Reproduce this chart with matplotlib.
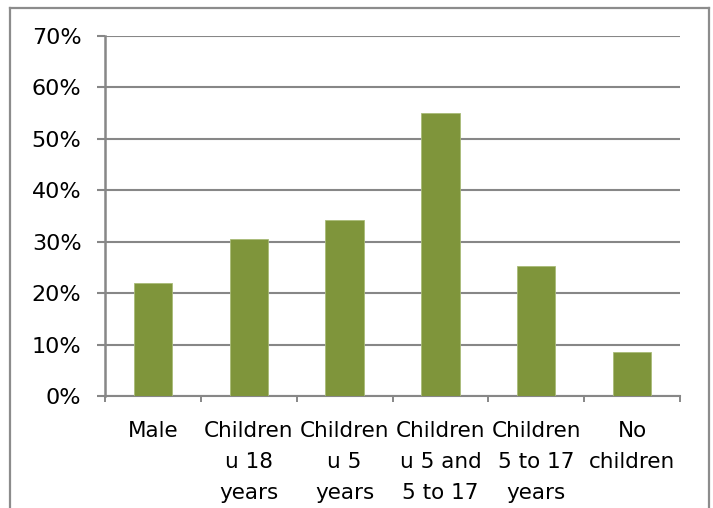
import matplotlib.pyplot as plt
import numpy as np
from matplotlib.lines import Line2D

categories = ["Male", "Children\nu 18\nyears", "Children\nu 5\nyears",
              "Children\nu 5 and\n5 to 17", "Children\n5 to 17\nyears", "No\nchildren"]
values = [22.0, 30.5, 34.3, 55.0, 25.3, 8.6]
yticks = [0, 10, 20, 30, 40, 50, 60, 70]

bar_color = "#7f953b"
grid_color = "#878787"

fig = plt.figure(figsize=(7.13, 5.08), dpi=100)
ax = fig.add_axes([0.1473, 0.2205, 0.8064, 0.7085])

x = np.arange(len(categories))
ax.bar(x, values, width=0.4, color=bar_color, edgecolor="#a9bb78", linewidth=0.6, zorder=3)

ax.set_xlim(-0.5, len(categories) - 0.5)
ax.set_ylim(0, 70)
ax.set_yticks(yticks)
ax.set_yticklabels([f"{v}%" for v in yticks])
ax.yaxis.grid(True, color=grid_color, linewidth=1.5, zorder=0)

ax.set_xticks(x)
ax.set_xticklabels(categories, linespacing=1.7)
ax.set_xticks(np.arange(-0.5, len(categories)), minor=True)
ax.tick_params(axis="x", which="major", length=0, pad=18, labelsize=15.5)
ax.tick_params(axis="x", which="minor", length=4.5, width=1.4, color=grid_color)
ax.tick_params(axis="y", length=6, width=1.5, color=grid_color, pad=11, labelsize=16)

for s in ["top", "right"]:
    ax.spines[s].set_visible(False)
ax.spines["left"].set_color(grid_color)
ax.spines["left"].set_linewidth(1.8)
ax.spines["bottom"].set_color(grid_color)
ax.spines["bottom"].set_linewidth(1.5)

# outer chart border
bx0, bx1, by1 = 0.014, 0.9944, 0.984
for xs, ys in [([bx0, bx0], [0, by1]), ([bx0, bx1], [by1, by1]), ([bx1, bx1], [by1, 0])]:
    fig.add_artist(Line2D(xs, ys, color="#8c8c8c", linewidth=1.6, transform=fig.transFigure))

fig.savefig("out.png", dpi=100)
